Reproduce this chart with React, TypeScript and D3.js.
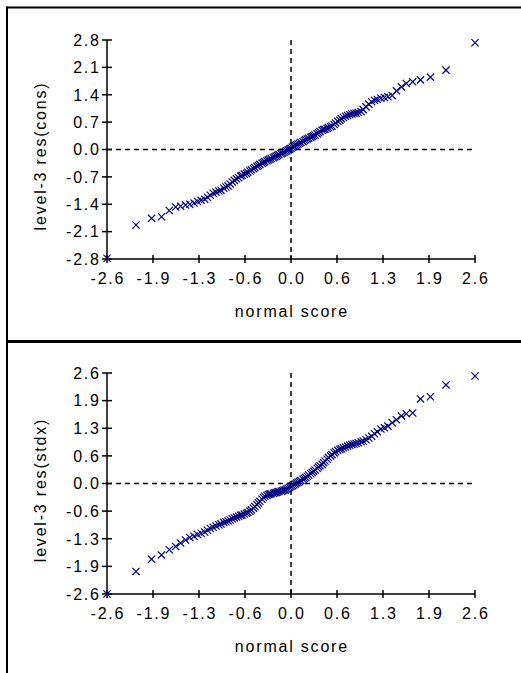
import React from "react";
import * as d3 from "d3";

const normalScores = [
  -2.6, -2.19, -1.97, -1.83, -1.72, -1.63, -1.56, -1.49, -1.43, -1.37, -1.32, -1.27, -1.22, -1.18, -1.14,
  -1.1, -1.06, -1.02, -0.99, -0.95, -0.92, -0.89, -0.86, -0.83, -0.8, -0.77, -0.74, -0.71, -0.69, -0.66,
  -0.63, -0.61, -0.58, -0.56, -0.53, -0.51, -0.48, -0.46, -0.44, -0.41, -0.39, -0.37, -0.34, -0.32, -0.3,
  -0.28, -0.25, -0.23, -0.21, -0.19, -0.17, -0.14, -0.12, -0.1, -0.08, -0.06, -0.04, -0.02, 0.0,
  0.02, 0.04, 0.06, 0.08, 0.1, 0.12, 0.14, 0.17, 0.19, 0.21, 0.23, 0.25, 0.28, 0.3, 0.32, 0.34, 0.37,
  0.39, 0.41, 0.44, 0.46, 0.48, 0.51, 0.53, 0.56, 0.58, 0.61, 0.63, 0.66, 0.69, 0.71, 0.74, 0.77, 0.8,
  0.83, 0.86, 0.89, 0.92, 0.95, 0.99, 1.02, 1.06, 1.1, 1.14, 1.18, 1.22, 1.27, 1.32, 1.37, 1.43, 1.49,
  1.56, 1.63, 1.72, 1.83, 1.97, 2.19, 2.6,
];

const resCons = [
  -2.78, -1.93, -1.76, -1.72, -1.56, -1.47, -1.45, -1.42, -1.4, -1.37, -1.33, -1.3, -1.27, -1.22, -1.17,
  -1.12, -1.09, -1.06, -1.04, -0.99, -0.96, -0.93, -0.88, -0.83, -0.79, -0.75, -0.72, -0.68, -0.66, -0.63,
  -0.61, -0.58, -0.55, -0.52, -0.49, -0.46, -0.43, -0.41, -0.38, -0.35, -0.33, -0.31, -0.29, -0.27, -0.25,
  -0.23, -0.21, -0.19, -0.17, -0.15, -0.13, -0.11, -0.09, -0.07, -0.05, -0.03, -0.01, 0.01, 0.03,
  0.06, 0.08, 0.1, 0.12, 0.14, 0.16, 0.18, 0.2, 0.23, 0.25, 0.27, 0.29, 0.31, 0.33, 0.35, 0.37, 0.4,
  0.43, 0.46, 0.49, 0.51, 0.52, 0.54, 0.56, 0.58, 0.6, 0.64, 0.68, 0.72, 0.75, 0.79, 0.82, 0.85, 0.87,
  0.89, 0.91, 0.92, 0.93, 0.95, 0.97, 1.02, 1.09, 1.16, 1.22, 1.26, 1.28, 1.31, 1.33, 1.35, 1.38, 1.5,
  1.6, 1.69, 1.73, 1.78, 1.85, 2.03, 2.73,
];

const resStdx = [
  -2.6, -2.07, -1.78, -1.68, -1.56, -1.48, -1.4, -1.33, -1.27, -1.24, -1.2, -1.17, -1.14, -1.1, -1.06,
  -1.03, -1.0, -0.97, -0.95, -0.92, -0.9, -0.88, -0.86, -0.83, -0.81, -0.79, -0.77, -0.75, -0.74, -0.72,
  -0.7, -0.68, -0.65, -0.62, -0.58, -0.54, -0.5, -0.46, -0.42, -0.37, -0.33, -0.3, -0.28, -0.26, -0.25,
  -0.24, -0.23, -0.22, -0.21, -0.2, -0.19, -0.18, -0.17, -0.16, -0.15, -0.13, -0.11, -0.09, -0.07,
  -0.05, -0.03, -0.01, 0.01, 0.03, 0.05, 0.07, 0.1, 0.12, 0.14, 0.17, 0.2, 0.23, 0.26, 0.29, 0.32, 0.36,
  0.39, 0.42, 0.45, 0.49, 0.53, 0.57, 0.61, 0.65, 0.68, 0.72, 0.75, 0.78, 0.8, 0.82, 0.84, 0.86, 0.88,
  0.9, 0.92, 0.93, 0.94, 0.96, 0.98, 1.0, 1.03, 1.07, 1.11, 1.17, 1.22, 1.28, 1.31, 1.35, 1.43, 1.5,
  1.59, 1.64, 1.66, 1.99, 2.04, 2.32, 2.53,
];

const xTicks = [-2.6, -1.95, -1.3, -0.65, 0, 0.65, 1.3, 1.95, 2.6];
const xTickLabels = ["-2.6", "-1.9", "-1.3", "-0.6", "0.0", "0.6", "1.3", "1.9", "2.6"];

const consTicks = [-2.8, -2.1, -1.4, -0.7, 0, 0.7, 1.4, 2.1, 2.8];
const consTickLabels = ["-2.8", "-2.1", "-1.4", "-0.7", "0.0", "0.7", "1.4", "2.1", "2.8"];

const stdxTicks = [-2.6, -1.95, -1.3, -0.65, 0, 0.65, 1.3, 1.95, 2.6];
const stdxTickLabels = ["-2.6", "-1.9", "-1.3", "-0.6", "0.0", "0.6", "1.3", "1.9", "2.6"];

const W = 521;
const H = 673;
const LS = 1.8;
const FONT = "'Liberation Sans', Arial, sans-serif";
const FS = 16;

type PanelProps = {
  values: number[];
  yTicks: number[];
  yLabels: string[];
  yLabel: string;
  yTop: number;
  yBottom: number;
  yLabelCenter: number;
};

function Panel({ values, yTicks, yLabels, yLabel, yTop, yBottom, yLabelCenter }: PanelProps) {
  const x = d3.scaleLinear().domain([-2.6, 2.6]).range([107, 475]);
  const y = d3.scaleLinear().domain([yTicks[0], yTicks[yTicks.length - 1]]).range([yBottom, yTop]);
  const x0 = x(-2.6);
  const axisY = yBottom;
  const cross = "M-3.6,-3.6L3.6,3.6M-3.6,3.6L3.6,-3.6";
  return (
    <g>
      <line x1={x0} x2={x(2.6)} y1={y(0)} y2={y(0)} stroke="#000" strokeWidth={1.5} strokeDasharray="5,4" />
      <line x1={x(0)} x2={x(0)} y1={yTop} y2={axisY} stroke="#000" strokeWidth={1.5} strokeDasharray="5,4" />
      <line x1={x0} x2={x0} y1={yTop} y2={axisY} stroke="#000" strokeWidth={1.5} />
      <line x1={x0} x2={x(2.6)} y1={axisY} y2={axisY} stroke="#000" strokeWidth={1.5} />
      {yTicks.map((t, i) => (
        <g key={"y" + i}>
          <line x1={x0 - 5} x2={x0 + 5} y1={y(t)} y2={y(t)} stroke="#000" strokeWidth={1.5} />
          <text
            x={x0 - 8 + LS}
            y={y(t)}
            dy="0.36em"
            textAnchor="end"
            fontFamily={FONT}
            fontSize={FS}
            letterSpacing={LS}
            fill="#000"
          >
            {yLabels[i]}
          </text>
        </g>
      ))}
      {xTicks.map((t, i) => (
        <g key={"x" + i}>
          <line x1={x(t)} x2={x(t)} y1={axisY - 4} y2={axisY + 4} stroke="#000" strokeWidth={1.5} />
          <text
            x={x(t) + LS / 2}
            y={axisY + 25}
            textAnchor="middle"
            fontFamily={FONT}
            fontSize={FS}
            letterSpacing={LS}
            fill="#000"
          >
            {xTickLabels[i]}
          </text>
        </g>
      ))}
      <text
        x={x(0) + LS / 2}
        y={axisY + 58}
        textAnchor="middle"
        fontFamily={FONT}
        fontSize={FS}
        letterSpacing={LS}
        fill="#000"
      >
        normal score
      </text>
      <text
        transform={`translate(46,${yLabelCenter}) rotate(-90)`}
        textAnchor="middle"
        fontFamily={FONT}
        fontSize={FS}
        letterSpacing={LS}
        fill="#000"
      >
        {yLabel}
      </text>
      {normalScores.map((s, i) => (
        <path
          key={"p" + i}
          d={cross}
          transform={`translate(${x(s)},${y(values[i])})`}
          stroke="#000080"
          strokeWidth={1.2}
          fill="none"
        />
      ))}
    </g>
  );
}

export default function App() {
  return (
    <svg
      width={W}
      height={H}
      style={{ position: "absolute", left: 0, top: 0, background: "#fff" }}
    >
      <rect x={0} y={0} width={W} height={H} fill="#fff" />
      <line x1={7} x2={W} y1={7.5} y2={7.5} stroke="#000" strokeWidth={2} />
      <line x1={7} x2={7} y1={6.5} y2={H} stroke="#000" strokeWidth={2} />
      <line x1={7} x2={W} y1={341.5} y2={341.5} stroke="#000" strokeWidth={3} />
      <Panel
        values={resCons}
        yTicks={consTicks}
        yLabels={consTickLabels}
        yLabel="level-3 res(cons)"
        yTop={40}
        yBottom={259}
        yLabelCenter={156}
      />
      <Panel
        values={resStdx}
        yTicks={stdxTicks}
        yLabels={stdxTickLabels}
        yLabel="level-3 res(stdx)"
        yTop={373}
        yBottom={594}
        yLabelCenter={490}
      />
    </svg>
  );
}
